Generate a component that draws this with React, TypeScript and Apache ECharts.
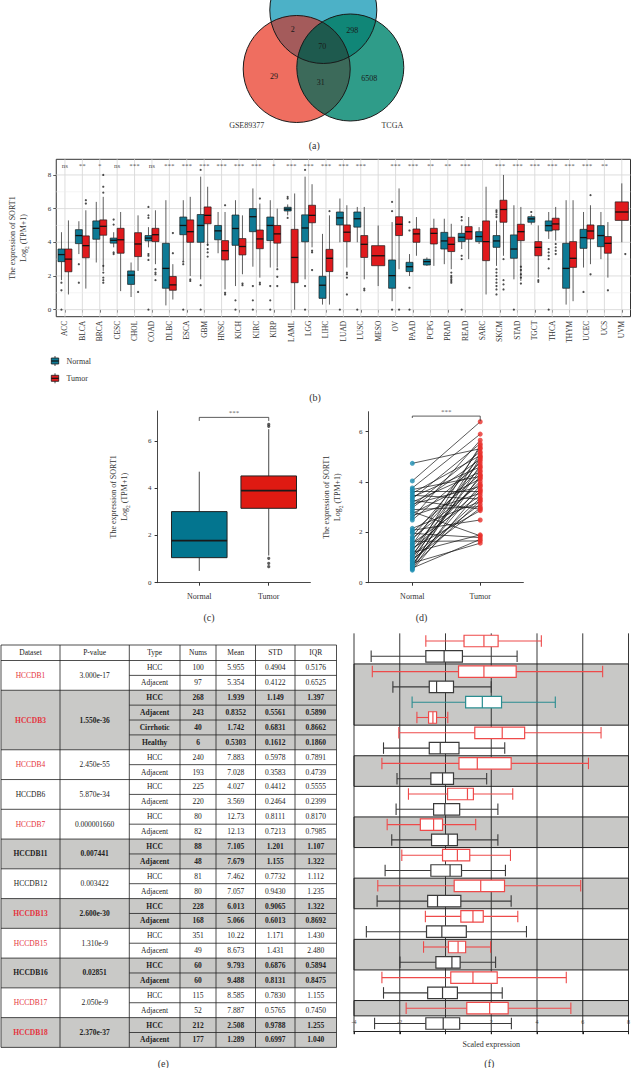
import React, { useEffect, useRef } from 'react';
import * as echarts from 'echarts';

const FONT = '"Liberation Serif", "DejaVu Serif", serif';

// ---------------- (a) Venn ----------------
const vennRegionCounts = ['2', '298', '70', '29', '31', '6508'];
const vennSetNames = ['GSE89377', 'TCGA'];

// ---------------- (b) pan-cancer boxplot ----------------
const bCategories = ['ACC', 'BLCA', 'BRCA', 'CESC', 'CHOL', 'COAD', 'DLBC', 'ESCA', 'GBM', 'HNSC', 'KICH', 'KIRC', 'KIRP', 'LAML', 'LGG', 'LIHC', 'LUAD', 'LUSC', 'MESO', 'OV', 'PAAD', 'PCPG', 'PRAD', 'READ', 'SARC', 'SKCM', 'STAD', 'TGCT', 'THCA', 'THYM', 'UCEC', 'UCS', 'UVM'];
const bSignif = ['ns', '**', '*', 'ns', '***', 'ns', '***', '***', '***', '***', '***', '***', '*', '***', '***', '***', '***', '***', '', '***', '***', '**', '**', '***', '', '***', '***', '***', '***', '***', '***', '**', ''];
const bGroups = ['Normal', 'Tumor'];
const bYTicks = [0, 2, 4, 6, 8];
// [min, Q1, median, Q3, max]
const bNormalStats = [
  [1.75, 2.85, 3.27, 3.6, 4.6],
  [3.3, 3.92, 4.4, 4.75, 5.25],
  [2.8, 4.18, 4.83, 5.27, 6.4],
  [3.7, 3.95, 4.12, 4.25, 4.6],
  [0.75, 1.5, 2.05, 2.3, 2.8],
  [3.7, 4.08, 4.25, 4.4, 4.9],
  [0.25, 1.27, 2.45, 3.94, 6.5],
  [2.9, 4.45, 5.0, 5.5, 6.5],
  [1.8, 4.0, 5.0, 5.65, 7.9],
  [3.35, 4.15, 4.68, 5.0, 5.8],
  [1.4, 3.82, 4.82, 5.62, 6.5],
  [2.55, 4.63, 5.52, 6.0, 7.2],
  [2.5, 4.1, 5.0, 5.5, 6.5],
  [5.6, 5.86, 5.97, 6.08, 6.25],
  [1.8, 4.03, 4.85, 5.63, 7.9],
  [0.3, 0.67, 1.45, 1.98, 4.5],
  [4.0, 5.03, 5.45, 5.8, 6.6],
  [4.0, 4.9, 5.4, 5.8, 6.1],
  null,
  [0.5, 1.27, 2.02, 2.95, 5.2],
  [2.0, 2.26, 2.55, 2.81, 3.3],
  [2.6, 2.65, 2.85, 2.99, 3.1],
  [2.7, 3.6, 4.08, 4.59, 5.4],
  [3.6, 4.04, 4.3, 4.53, 5.0],
  [3.9, 4.04, 4.34, 4.63, 4.9],
  [2.6, 3.7, 4.08, 4.4, 5.3],
  [1.8, 3.05, 3.6, 4.44, 6.2],
  [5.05, 5.19, 5.39, 5.52, 5.65],
  [4.2, 4.67, 4.99, 5.27, 5.8],
  [0.3, 1.27, 2.45, 3.94, 6.5],
  [2.5, 3.64, 4.28, 4.77, 5.8],
  [3.0, 3.74, 4.4, 4.99, 5.8],
  null,
];
const bTumorStats = [
  [0.9, 2.25, 3.0, 3.6, 5.3],
  [1.25, 3.08, 3.8, 4.38, 5.9],
  [2.3, 4.42, 4.95, 5.33, 6.7],
  [1.1, 3.35, 4.15, 4.83, 5.8],
  [2.3, 3.15, 3.9, 4.57, 5.6],
  [2.7, 4.04, 4.45, 4.83, 5.9],
  [0.6, 1.15, 1.47, 1.97, 2.7],
  [2.0, 4.0, 4.63, 5.33, 6.7],
  [3.8, 5.1, 5.6, 6.1, 7.3],
  [1.2, 2.95, 3.5, 4.1, 5.8],
  [2.1, 3.25, 3.75, 4.22, 5.6],
  [1.9, 3.62, 4.2, 4.73, 6.3],
  [2.5, 3.95, 4.5, 5.0, 6.0],
  [0.0, 1.6, 3.1, 4.77, 6.9],
  [3.7, 5.16, 5.6, 6.2, 7.45],
  [0.3, 2.26, 3.05, 3.58, 5.6],
  [2.5, 4.04, 4.6, 5.03, 6.2],
  [1.8, 3.1, 3.88, 4.4, 6.1],
  [1.4, 2.61, 3.2, 3.8, 5.0],
  [2.4, 4.4, 5.07, 5.52, 7.2],
  [3.2, 4.0, 4.5, 4.79, 5.5],
  [2.6, 3.9, 4.53, 4.83, 5.4],
  [2.4, 3.45, 3.88, 4.3, 5.1],
  [3.0, 4.18, 4.63, 4.93, 5.5],
  [0.9, 2.91, 4.04, 5.27, 7.3],
  [3.2, 5.19, 5.95, 6.5, 8.0],
  [1.7, 4.1, 4.63, 5.07, 6.1],
  [1.9, 3.2, 3.7, 4.04, 5.0],
  [4.1, 4.73, 5.09, 5.43, 6.1],
  [0.5, 2.51, 3.05, 4.04, 6.5],
  [2.7, 4.2, 4.67, 5.03, 6.2],
  [1.9, 3.35, 3.94, 4.34, 5.2],
  [4.0, 5.3, 5.8, 6.4, 7.5],
];
const bNormalOutliers = [
  [1.6, 1.15, 0], [2.7, 1.6], [], [5.35, 5.05, 3.4, 3.3], [], [6.1, 5.6, 5.45, 3.3, 3.2, 2.95, 0], [], [2.85, 2.7, 0], [8.3, 1.45, 0], [], [0.55, 0],
  [1.4, 0.55, 0], [1.4, 0.55, 0], [6.7, 6.6, 5.45], [8.3, 1.4, 0], [], [0], [0], [], [6.4, 5.85, 0], [5.2, 4.7, 1.3, 0], [], [], [5.5, 5.3, 3.2, 3.0, 0],
  [], [5.9, 5.8, 5.65, 5.5, 2.4, 2.2, 2.0, 1.8, 1.6, 1.4, 1.2, 0.9], [0], [5.8], [3.6, 3.4, 3.2, 3.0, 2.45, 0], [], [1.05], [], [],
];
const bTumorOutliers = [
  [], [6.5, 6.3], [8.0, 7.3, 6.95, 2.6, 2.2, 1.9, 1.75, 1.6], [], [1.05], [2.4, 2.2, 2.1, 1.75], [3.35, 4.55], [1.8, 1.7], [3.85, 3.6, 3.4, 3.15], [6.2, 1.0, 0.9], [1.55, 1.45],
  [6.6, 1.6, 1.5], [2.4, 1.95, 1.4], [], [3.5, 3.4, 2.35], [5.85], [2.2, 2.1, 1.9, 0.9], [1.25, 1.15], [], [0], [], [], [2.2, 2.0, 1.9, 1.8, 1.7, 1.6], [],
  [], [3.0, 1.75, 1.5, 1.2], [2.55, 2.35, 2.1, 1.9, 1.55], [1.75, 1.65], [3.9, 3.7, 3.5, 3.3], [], [2.1, 6.8], [1.15], [3.3],
];

// ---------------- (c) LIHC boxplot ----------------
const cGroups = ['Normal', 'Tumor'];
const cNormalStats = [0.5, 1.06, 1.78, 3.01, 4.7];
const cTumorStats = [1.15, 3.15, 3.9, 4.52, 6.5];
const cTumorOutliers = [6.62, 6.7, 1.03, 0.82, 0.68];
const cYTicks = [0, 2, 4, 6];
const cBracket = [6.85, 7.0];

// ---------------- (d) paired ----------------
const dGroups = ['Normal', 'Tumor'];
const dNormal = [4.74, 4.04, 3.76, 3.7, 3.62, 3.55, 3.47, 3.4, 3.33, 3.27, 3.2, 3.12, 3.05, 2.98, 2.9, 2.82, 2.75, 2.66, 2.57, 2.49, 2.16, 2.08, 2.01, 1.96, 1.83, 1.77, 1.71, 1.64, 1.57, 1.51, 1.45, 1.38, 1.32, 1.26, 1.2, 1.14, 1.08, 1.03, 0.98, 0.93, 0.88, 0.83, 0.78, 0.74, 0.7, 0.66, 0.62, 0.58, 0.54, 0.5];
const dTumor = [5.32, 6.39, 5.9, 4.22, 3.62, 5.05, 3.32, 4.6, 5.52, 2.92, 4.4, 3.82, 5.2, 4.9, 3.02, 1.86, 4.12, 3.55, 5.66, 4.75, 3.22, 2.49, 4.3, 1.79, 5.0, 3.92, 4.55, 1.66, 3.46, 5.36, 4.02, 2.86, 3.72, 4.84, 1.9, 4.16, 3.12, 5.45, 4.46, 2.96, 3.36, 5.14, 1.57, 3.86, 4.66, 3.26, 4.96, 1.72, 4.26, 3.66];
const dYTicks = [0, 2, 4, 6];
const dBracket = [6.54, 6.615, 6.42];

// ---------------- (e) table ----------------
const eHeader = ['Dataset', 'P-value', 'Type', 'Nums', 'Mean', 'STD', 'IQR'];
const eDatasets = ['HCCDB1', 'HCCDB3', 'HCCDB4', 'HCCDB6', 'HCCDB7', 'HCCDB11', 'HCCDB12', 'HCCDB13', 'HCCDB15', 'HCCDB16', 'HCCDB17', 'HCCDB18'];
const ePValues = ['3.000e-17', '1.550e-36', '2.450e-55', '5.870e-34', '0.000001660', '0.007441', '0.003422', '2.600e-30', '1.310e-9', '0.02851', '2.050e-9', '2.370e-37'];
const eRedName = [true, true, true, false, true, false, false, true, true, false, true, true];
const eShaded = [false, true, false, false, false, true, false, true, false, true, false, true];
const eTypes = [['HCC', 'Adjacent'], ['HCC', 'Adjacent', 'Cirrhotic', 'Healthy'], ['HCC', 'Adjacent'], ['HCC', 'Adjacent'], ['HCC', 'Adjacent'], ['HCC', 'Adjacent'], ['HCC', 'Adjacent'], ['HCC', 'Adjacent'], ['HCC', 'Adjacent'], ['HCC', 'Adjacent'], ['HCC', 'Adjacent'], ['HCC', 'Adjacent']];
const eNums = [['100', '97'], ['268', '243', '40', '6'], ['240', '193'], ['225', '220'], ['80', '82'], ['88', '48'], ['81', '80'], ['228', '168'], ['351', '49'], ['60', '60'], ['115', '52'], ['212', '177']];
const eMeans = [['5.955', '5.354'], ['1.939', '0.8352', '1.742', '0.5303'], ['7.883', '7.028'], ['4.027', '3.569'], ['12.73', '12.13'], ['7.105', '7.679'], ['7.462', '7.057'], ['6.013', '5.066'], ['10.22', '8.673'], ['9.793', '9.488'], ['8.585', '7.887'], ['2.508', '1.289']];
const eSTD = [['0.4904', '0.4122'], ['1.149', '0.5561', '0.6831', '0.1612'], ['0.5978', '0.3583'], ['0.4412', '0.2464'], ['0.8111', '0.7213'], ['1.201', '1.155'], ['0.7732', '0.9430'], ['0.9065', '0.6013'], ['1.171', '1.431'], ['0.6876', '0.8131'], ['0.7830', '0.5765'], ['0.9788', '0.6997']];
const eIQR = [['0.5176', '0.6525'], ['1.397', '0.5890', '0.8662', '0.1860'], ['0.7891', '0.4739'], ['0.5555', '0.2399'], ['0.8170', '0.7985'], ['1.107', '1.322'], ['1.112', '1.235'], ['1.322', '0.8692'], ['1.430', '2.480'], ['0.5894', '0.8475'], ['1.155', '0.7450'], ['1.255', '1.040']];

// ---------------- (f) scaled expression ----------------
const fTypeOrder = ['HCC', 'Adjacent', 'Cirrhotic', 'Healthy'];
const fStats = [
  [-0.86, 0.81, 1.68, 2.3, 4.19],
  [-3.25, -0.86, -0.06, 0.74, 3.13],
  [-3.2, 0.57, 1.68, 3.09, 6.87],
  [-2.3, -0.71, -0.39, 0.35, 2.0],
  [-1.46, 0.88, 1.61, 2.45, 4.8],
  [-1.25, -0.74, -0.55, -0.39, 0.1],
  [-2.04, 1.28, 2.48, 3.46, 6.8],
  [-2.71, -0.71, -0.23, 0.59, 2.59],
  [-2.78, 0.59, 1.39, 2.87, 6.25],
  [-2.12, -0.64, -0.13, 0.35, 1.8],
  [-1.62, 0.09, 0.96, 1.22, 2.94],
  [-2.16, -0.52, -0.03, 0.62, 2.29],
  [-2.55, -1.1, -0.52, -0.13, 1.32],
  [-2.35, -0.61, 0.12, 0.52, 2.29],
  [-1.91, -0.13, 0.52, 1.06, 2.84],
  [-2.64, -0.64, 0.2, 0.7, 2.62],
  [-2.96, 0.38, 1.54, 2.58, 5.91],
  [-2.99, -0.78, -0.35, 0.67, 2.87],
  [-0.88, 0.67, 1.2, 1.65, 3.16],
  [-3.46, -0.83, -0.16, 0.91, 3.54],
  [-0.96, 0.13, 0.55, 0.88, 1.97],
  [-1.99, -0.42, 0.28, 0.64, 2.19],
  [-2.78, 0.23, 1.2, 2.26, 5.28],
  [-2.71, -0.78, -0.13, 0.52, 2.48],
  [-1.72, 0.93, 1.93, 2.74, 5.48],
  [-3.1, -0.86, -0.1, 0.62, 2.88],
];
const fShadedBands = [[2, 6], [8, 10], [12, 14], [16, 18], [20, 22], [24, 25]];
const fXTicks = [-4, -2, 0, 2, 4, 6, 8];

// ---------------- styling ----------------
const NORMAL_B = '#0e7a95';
const TUMOR_B = '#e01a1d';
const NORMAL_C = '#03758f';
const TUMOR_C = '#df1a12';
const NORMAL_D = '#1c8db2';
const TUMOR_D = '#e8302a';
const F_COLORS = ['#ee4a4a', '#3a3a3a', '#2a8d90', '#ee4a4a'];
const RED_TXT = '#e5333d';

function txt(x: number, y: number, text: string, o: any = {}) {
  const align = o.align || 'center';
  return {
    type: 'text', x, y, silent: true, z: o.z || 10,
    style: {
      text, fill: o.fill || '#222', fontSize: o.size || 8, fontFamily: FONT, fontWeight: o.weight || 'normal',
      align, textAlign: align, verticalAlign: 'middle', textVerticalAlign: 'middle',
    },
  };
}
function ln(x1: number, y1: number, x2: number, y2: number, stroke = '#222', lw = 0.8) {
  return { type: 'line', silent: true, z: 10, shape: { x1, y1, x2, y2 }, style: { stroke, lineWidth: lw } };
}

function regionPoints(circles: any[], n = 360) {
  const pts: number[][] = [];
  circles.forEach((c, i) => {
    for (let k = 0; k < n; k++) {
      const a = (2 * Math.PI * k) / n;
      const x = c.cx + c.r * Math.cos(a);
      const y = c.cy + c.r * Math.sin(a);
      const inside = circles.every((o, j) => j === i || (x - o.cx) ** 2 + (y - o.cy) ** 2 <= o.r * o.r + 1e-6);
      if (inside) pts.push([x, y]);
    }
  });
  const mx = pts.reduce((s, p) => s + p[0], 0) / pts.length;
  const my = pts.reduce((s, p) => s + p[1], 0) / pts.length;
  pts.sort((p, q) => Math.atan2(p[1] - my, p[0] - mx) - Math.atan2(q[1] - my, q[0] - mx));
  return pts;
}

function vennGraphics() {
  const TOP = { cx: 323.3, cy: 10, r: 53.5 };
  const LEFT = { cx: 296.7, cy: 69, r: 53.5 };
  const RIGHT = { cx: 350.3, cy: 67.5, r: 53.5 };
  const els: any[] = [];
  const circ = (c: any, fill: string) => ({ type: 'circle', silent: true, z: 5, shape: { cx: c.cx, cy: c.cy, r: c.r }, style: { fill } });
  els.push(circ(TOP, '#4cb1c7'), circ(LEFT, '#ef6e60'), circ(RIGHT, '#2f9c89'));
  const poly = (cs: any[], fill: string) => ({ type: 'polygon', silent: true, z: 6, shape: { points: regionPoints(cs) }, style: { fill } });
  els.push(poly([TOP, LEFT], '#a45b5b'), poly([TOP, RIGHT], '#108677'), poly([LEFT, RIGHT], '#3c6a5a'), poly([TOP, LEFT, RIGHT], '#1e5a4e'));
  [TOP, LEFT, RIGHT].forEach((c) => els.push({ type: 'circle', silent: true, z: 7, shape: { cx: c.cx, cy: c.cy, r: c.r }, style: { fill: 'none', stroke: '#1a1a1a', lineWidth: 1 } }));
  const pos = [[292.7, 29], [352.3, 30], [322.3, 46.7], [274, 76.7], [320.7, 82.7], [369.3, 78.3]];
  vennRegionCounts.forEach((t, i) => els.push(txt(pos[i][0], pos[i][1], t, { size: 8, fill: '#1a1a1a' })));
  els.push(txt(246.7, 125.7, vennSetNames[0], { size: 8, fill: '#333' }));
  els.push(txt(392.3, 125.7, vennSetNames[1], { size: 8, fill: '#333' }));
  return els;
}

function tableGraphics() {
  const els: any[] = [];
  const colX = [1, 60, 129.3, 180, 216, 255.5, 295, 336.5];
  const top = 645, headH = 15.5, rowH = 14.88;
  const y0 = top + headH;
  const nRows = eTypes.reduce((s, t) => s + t.length, 0);
  const bottom = y0 + nRows * rowH;
  // shading
  let r = 0;
  eDatasets.forEach((_, g) => {
    const n = eTypes[g].length;
    if (eShaded[g]) els.push({ type: 'rect', silent: true, z: 9, shape: { x: colX[0], y: y0 + r * rowH, width: colX[7] - colX[0], height: n * rowH }, style: { fill: '#c9c9c7' } });
    r += n;
  });
  // lines
  els.push(ln(colX[0], top, colX[7], top), ln(colX[0], y0, colX[7], y0));
  colX.forEach((x) => els.push(ln(x, top, x, bottom)));
  // header
  eHeader.forEach((h, i) => els.push(txt((colX[i] + colX[i + 1]) / 2, top + headH / 2, h, { size: 7.5 })));
  r = 0;
  eDatasets.forEach((name, g) => {
    const n = eTypes[g].length;
    const gy = y0 + r * rowH;
    const weight = eShaded[g] ? 'bold' : 'normal';
    els.push(ln(colX[0], gy + n * rowH, colX[7], gy + n * rowH));
    els.push(txt((colX[0] + colX[1]) / 2, gy + (n * rowH) / 2, name, { size: 7.5, fill: eRedName[g] ? RED_TXT : '#222', weight }));
    els.push(txt((colX[1] + colX[2]) / 2, gy + (n * rowH) / 2, ePValues[g], { size: 7.5, weight }));
    for (let k = 0; k < n; k++) {
      const cy = gy + (k + 0.5) * rowH;
      if (k > 0) els.push(ln(colX[2], gy + k * rowH, colX[7], gy + k * rowH));
      const vals = [eTypes[g][k], eNums[g][k], eMeans[g][k], eSTD[g][k], eIQR[g][k]];
      vals.forEach((v, c) => els.push(txt((colX[c + 2] + colX[c + 3]) / 2, cy, v, { size: 7.5, weight })));
    }
    r += n;
  });
  return els;
}

function legendGraphics() {
  const els: any[] = [];
  const items = [[bGroups[0], NORMAL_B, 361], [bGroups[1], TUMOR_B, 378.3]] as any[];
  items.forEach(([name, color, y]) => {
    els.push(ln(55, y - 5, 55, y + 5, '#1a1a1a', 0.8));
    els.push({ type: 'rect', silent: true, z: 11, shape: { x: 51.3, y: y - 3, width: 7.4, height: 6 }, style: { fill: color, stroke: '#1a1a1a', lineWidth: 0.8 } });
    els.push({ type: 'line', silent: true, z: 12, shape: { x1: 51.3, y1: y, x2: 58.7, y2: y }, style: { stroke: '#111', lineWidth: 1.2 } });
    els.push(txt(66.5, y, name, { size: 8, align: 'left', fill: '#333' }));
  });
  return els;
}

const yNameRich = (size: number) => ({
  fontFamily: FONT, color: '#333',
  rich: {
    a: { fontSize: size, fontFamily: FONT, color: '#333', lineHeight: size + 3.5 },
    s: { fontSize: size * 0.68, fontFamily: FONT, color: '#333', lineHeight: size * 0.7, verticalAlign: 'bottom' },
  },
});
const Y_NAME = '{a|The expression of SORT1}\n{a|Log}{s|2}{a| (TPM+1)}';

function buildOption() {
  const bBoxData: any[] = [];
  bCategories.forEach((_, i) => {
    const n = bNormalStats[i];
    const t = bTumorStats[i];
    if (n) bBoxData.push([i, ...n, -1]);
    if (t) bBoxData.push([i, ...t, n ? 1 : 0]);
  });
  const bNOut: any[] = [];
  const bTOut: any[] = [];
  bNormalOutliers.forEach((arr, i) => arr.forEach((v) => bNOut.push([i, v])));
  bTumorOutliers.forEach((arr, i) => arr.forEach((v) => bTOut.push([i, v])));
  const bGrid: any[] = bCategories.map((_, i) => [i, 0, 1]);
  for (let v = 0; v <= 8; v++) bGrid.push([0, v, v % 2 === 0 ? 0 : 2]);
  const bBand = 580.5 / bCategories.length;

  const renderB = (params: any, api: any) => {
    const idx = api.value(0);
    const pos = api.value(6);
    const bw = api.size([1, 0])[0];
    const cx = api.coord([idx, 0])[0] + pos * bw * 0.2;
    const hw = pos === 0 ? bw * 0.38 : bw * 0.2;
    const yv = (k: number) => api.coord([idx, api.value(k)])[1];
    const yMin = yv(1), yQ1 = yv(2), yMed = yv(3), yQ3 = yv(4), yMax = yv(5);
    const fill = pos < 0 ? NORMAL_B : TUMOR_B;
    const ls = { stroke: '#1a1a1a', lineWidth: 0.7 };
    return {
      type: 'group', children: [
        { type: 'line', shape: { x1: cx, y1: yMax, x2: cx, y2: yQ3 }, style: ls },
        { type: 'line', shape: { x1: cx, y1: yQ1, x2: cx, y2: yMin }, style: ls },
        { type: 'rect', shape: { x: cx - hw, y: yQ3, width: 2 * hw, height: yQ1 - yQ3 }, style: { fill, stroke: '#1a1a1a', lineWidth: 0.7 } },
        { type: 'line', shape: { x1: cx - hw, y1: yMed, x2: cx + hw, y2: yMed }, style: { stroke: '#111', lineWidth: 1.3 } },
      ],
    };
  };
  const renderBGrid = (params: any, api: any) => {
    const cs = params.coordSys;
    const kind = api.value(2);
    if (kind === 1) {
      const x = api.coord([api.value(0), 0])[0];
      return { type: 'line', shape: { x1: x, y1: cs.y, x2: x, y2: cs.y + cs.height }, style: { stroke: '#d9d9d9', lineWidth: 0.9 } };
    }
    const y = api.coord([0, api.value(1)])[1];
    return { type: 'line', shape: { x1: cs.x, y1: y, x2: cs.x + cs.width, y2: y }, style: { stroke: kind === 0 ? '#d9d9d9' : '#ececec', lineWidth: kind === 0 ? 0.9 : 0.6 } };
  };

  const renderC = (params: any, api: any) => {
    const xv = api.value(0);
    const bw = api.size([1, 0])[0];
    const cx = api.coord([xv, 0])[0];
    const hw = bw * 0.4;
    const yv = (k: number) => api.coord([xv, api.value(k)])[1];
    const yMin = yv(1), yQ1 = yv(2), yMed = yv(3), yQ3 = yv(4), yMax = yv(5);
    const fill = api.value(6) === 0 ? NORMAL_C : TUMOR_C;
    const ls = { stroke: '#333', lineWidth: 0.9 };
    return {
      type: 'group', children: [
        { type: 'line', shape: { x1: cx, y1: yMax, x2: cx, y2: yQ3 }, style: ls },
        { type: 'line', shape: { x1: cx, y1: yQ1, x2: cx, y2: yMin }, style: ls },
        { type: 'rect', shape: { x: cx - hw, y: yQ3, width: 2 * hw, height: yQ1 - yQ3 }, style: { fill, stroke: '#222', lineWidth: 1 } },
        { type: 'line', shape: { x1: cx - hw, y1: yMed, x2: cx + hw, y2: yMed }, style: { stroke: '#1a1a1a', lineWidth: 1.8 } },
      ],
    };
  };

  const renderF = (params: any, api: any) => {
    const row = api.value(0);
    const yc = api.coord([0, row + 0.5])[1];
    const unit = api.size([0, 1])[1];
    const hh = unit * 0.375;
    const x = (k: number) => api.coord([api.value(k), row + 0.5])[0];
    const xMin = x(1), xQ1 = x(2), xMed = x(3), xQ3 = x(4), xMax = x(5);
    const color = F_COLORS[api.value(6)];
    const ls = { stroke: color, lineWidth: 1.1 };
    return {
      type: 'group', children: [
        { type: 'line', shape: { x1: xMin, y1: yc, x2: xQ1, y2: yc }, style: ls },
        { type: 'line', shape: { x1: xQ3, y1: yc, x2: xMax, y2: yc }, style: ls },
        { type: 'line', shape: { x1: xMin, y1: yc - hh, x2: xMin, y2: yc + hh }, style: ls },
        { type: 'line', shape: { x1: xMax, y1: yc - hh, x2: xMax, y2: yc + hh }, style: ls },
        { type: 'rect', shape: { x: xQ1, y: yc - hh, width: xQ3 - xQ1, height: 2 * hh }, style: { fill: '#fff', stroke: color, lineWidth: 1.2 } },
        { type: 'line', shape: { x1: xMed, y1: yc - hh, x2: xMed, y2: yc + hh }, style: { stroke: color, lineWidth: 1.2 } },
      ],
    };
  };
  const renderFBand = (params: any, api: any) => {
    const cs = params.coordSys;
    const y1 = api.coord([0, api.value(0)])[1];
    const y2 = api.coord([0, api.value(1)])[1];
    return { type: 'rect', shape: { x: cs.x, y: Math.min(y1, y2), width: cs.width, height: Math.abs(y2 - y1) }, style: { fill: '#c8c8c6', stroke: '#222', lineWidth: 1 } };
  };
  const renderFLine = (params: any, api: any) => {
    const cs = params.coordSys;
    const x = api.coord([api.value(0), 0])[0];
    return { type: 'line', shape: { x1: x, y1: cs.y, x2: x, y2: cs.y + cs.height + 3 }, style: { stroke: '#222', lineWidth: 0.9 } };
  };

  const fTypesFlat = eTypes.reduce((a: string[], t) => a.concat(t), []);
  const fData = fStats.map((s, i) => [i, ...s, fTypeOrder.indexOf(fTypesFlat[i])]);

  const tickLabel = { fontFamily: FONT, color: '#333' };

  return {
    animation: false,
    backgroundColor: '#fff',
    textStyle: { fontFamily: FONT },
    grid: [
      { left: 50, top: 159.3, width: 580.5, height: 157.4, show: true, borderColor: '#333', borderWidth: 1, backgroundColor: '#fff' },
      { left: 157.6, top: 411, width: 152.8, height: 171.7 },
      { left: 368.6, top: 411.7, width: 154.8, height: 171 },
      { left: 354, top: 633.35, width: 277.7, height: 397.8 },
    ],
    xAxis: [
      {
        type: 'category', gridIndex: 0, data: bCategories, boundaryGap: true,
        axisLine: { show: false },
        axisTick: { show: true, alignWithLabel: true, length: 3, lineStyle: { color: '#333', width: 0.8 } },
        axisLabel: { ...tickLabel, rotate: 90, fontSize: 7.5, interval: 0, margin: 4 },
        splitLine: { show: false },
      },
      {
        type: 'value', gridIndex: 1, min: 0.4, max: 2.6,
        axisLine: { show: true, onZero: false, lineStyle: { color: '#333', width: 0.9 } },
        axisTick: { show: true, customValues: [1, 2], length: 3, lineStyle: { color: '#333' } },
        axisLabel: { ...tickLabel, customValues: [1, 2], fontSize: 8, margin: 10, formatter: (v: number) => cGroups[Math.round(v) - 1] || '' },
        splitLine: { show: false },
      },
      {
        type: 'value', gridIndex: 2, min: 0.356, max: 2.636,
        axisLine: { show: true, onZero: false, lineStyle: { color: '#333', width: 0.9 } },
        axisTick: { show: true, customValues: [1, 2], length: 3, lineStyle: { color: '#333' } },
        axisLabel: { ...tickLabel, customValues: [1, 2], fontSize: 8, margin: 10, formatter: (v: number) => dGroups[Math.round(v) - 1] || '' },
        splitLine: { show: false },
      },
      {
        type: 'value', gridIndex: 3, min: -4, max: 8, interval: 2,
        axisLine: { show: true, onZero: false, lineStyle: { color: '#222', width: 1 } },
        axisTick: { show: true, length: 3, lineStyle: { color: '#222' } },
        axisLabel: { ...tickLabel, inside: true, fontSize: 6, color: '#555', margin: 6, showMinLabel: true, showMaxLabel: true },
        splitLine: { show: false },
        name: 'Scaled expression', nameLocation: 'middle', nameGap: 9,
        nameTextStyle: { fontFamily: FONT, fontSize: 8, color: '#333' },
      },
    ],
    yAxis: [
      {
        type: 'value', gridIndex: 0, min: -0.42, max: 8.93,
        axisLine: { show: false },
        axisTick: { show: true, customValues: bYTicks, length: 3, lineStyle: { color: '#333', width: 0.8 } },
        axisLabel: { ...tickLabel, customValues: bYTicks, fontSize: 7, margin: 5 },
        splitLine: { show: false },
        name: Y_NAME, nameLocation: 'middle', nameRotate: 90, nameGap: 27, nameTextStyle: yNameRich(8),
      },
      {
        type: 'value', gridIndex: 1, min: 0, max: 7.27,
        axisLine: { show: true, onZero: false, lineStyle: { color: '#333', width: 0.9 } },
        axisTick: { show: true, customValues: cYTicks, length: 3, lineStyle: { color: '#333' } },
        axisLabel: { ...tickLabel, customValues: cYTicks, fontSize: 7, margin: 6 },
        splitLine: { show: false },
        name: Y_NAME, nameLocation: 'middle', nameRotate: 90, nameGap: 27, nameTextStyle: yNameRich(8),
      },
      {
        type: 'value', gridIndex: 2, min: 0, max: 6.79,
        axisLine: { show: true, onZero: false, lineStyle: { color: '#333', width: 0.9 } },
        axisTick: { show: true, customValues: dYTicks, length: 3, lineStyle: { color: '#333' } },
        axisLabel: { ...tickLabel, customValues: dYTicks, fontSize: 7, margin: 6 },
        splitLine: { show: false },
        name: Y_NAME, nameLocation: 'middle', nameRotate: 90, nameGap: 25, nameTextStyle: yNameRich(8),
      },
      { type: 'value', gridIndex: 3, min: 0, max: fStats.length, inverse: true, show: false },
    ],
    series: [
      // (b)
      { type: 'custom', name: 'bgrid', xAxisIndex: 0, yAxisIndex: 0, z: 1, silent: true, renderItem: renderBGrid, encode: { x: 0, y: 1 }, data: bGrid },
      { type: 'custom', name: 'bbox', xAxisIndex: 0, yAxisIndex: 0, z: 3, silent: true, renderItem: renderB, encode: { x: 0, y: [1, 2, 3, 4, 5] }, data: bBoxData },
      { type: 'scatter', xAxisIndex: 0, yAxisIndex: 0, z: 4, silent: true, symbolSize: 2.2, symbolOffset: [-bBand * 0.2, 0], itemStyle: { color: '#222' }, data: bNOut },
      { type: 'scatter', xAxisIndex: 0, yAxisIndex: 0, z: 4, silent: true, symbolSize: 2.2, symbolOffset: [bBand * 0.2, 0], itemStyle: { color: '#222' }, data: bTOut },
      {
        type: 'scatter', xAxisIndex: 0, yAxisIndex: 0, z: 5, silent: true, symbolSize: 1, itemStyle: { color: 'rgba(0,0,0,0)' },
        label: { show: true, position: 'inside', formatter: '{b}', fontFamily: FONT, fontSize: 7, color: '#222' },
        data: bSignif.map((s, i) => ({ name: s, value: [i, 8.55] })).filter((d) => d.name),
      },
      // (c)
      { type: 'custom', xAxisIndex: 1, yAxisIndex: 1, z: 3, silent: true, renderItem: renderC, encode: { x: 0, y: [1, 2, 3, 4, 5] }, data: [[1, ...cNormalStats, 0], [2, ...cTumorStats, 1]] },
      { type: 'scatter', xAxisIndex: 1, yAxisIndex: 1, z: 4, silent: true, symbolSize: 3.2, itemStyle: { color: '#333' }, data: cTumorOutliers.map((v) => [2, v]) },
      {
        type: 'lines', coordinateSystem: 'cartesian2d', xAxisIndex: 1, yAxisIndex: 1, polyline: true, silent: true, z: 4,
        lineStyle: { color: '#333', width: 0.8, opacity: 1 },
        data: [{ coords: [[1, cBracket[0]], [1, cBracket[1]], [2, cBracket[1]], [2, cBracket[0]]] }],
      },
      {
        type: 'scatter', xAxisIndex: 1, yAxisIndex: 1, z: 5, silent: true, symbolSize: 1, itemStyle: { color: 'rgba(0,0,0,0)' },
        label: { show: true, position: 'top', distance: 0, formatter: '***', fontFamily: FONT, fontSize: 7, color: '#333' },
        data: [[1.5, cBracket[1]]],
      },
      // (d)
      {
        type: 'lines', coordinateSystem: 'cartesian2d', xAxisIndex: 2, yAxisIndex: 2, silent: true, z: 2,
        lineStyle: { color: '#111', width: 0.7, opacity: 1 },
        data: dNormal.map((n, i) => ({ coords: [[1, n], [2, dTumor[i]]] })),
      },
      { type: 'scatter', xAxisIndex: 2, yAxisIndex: 2, z: 3, silent: true, symbolSize: 5, itemStyle: { color: NORMAL_D }, data: dNormal.map((v) => [1, v]) },
      { type: 'scatter', xAxisIndex: 2, yAxisIndex: 2, z: 3, silent: true, symbolSize: 5, itemStyle: { color: TUMOR_D }, data: dTumor.map((v) => [2, v]) },
      {
        type: 'lines', coordinateSystem: 'cartesian2d', xAxisIndex: 2, yAxisIndex: 2, polyline: true, silent: true, z: 4,
        lineStyle: { color: '#333', width: 0.8, opacity: 1 },
        data: [{ coords: [[1, dBracket[0]], [1, dBracket[1]], [2, dBracket[1]], [2, dBracket[2]]] }],
      },
      {
        type: 'scatter', xAxisIndex: 2, yAxisIndex: 2, z: 5, silent: true, symbolSize: 1, itemStyle: { color: 'rgba(0,0,0,0)' },
        label: { show: true, position: 'top', distance: 0, formatter: '***', fontFamily: FONT, fontSize: 7, color: '#333' },
        data: [[1.5, dBracket[1]]],
      },
      // (f)
      { type: 'custom', xAxisIndex: 3, yAxisIndex: 3, z: 1, silent: true, renderItem: renderFBand, encode: { y: [0, 1] }, data: fShadedBands },
      { type: 'custom', xAxisIndex: 3, yAxisIndex: 3, z: 2, silent: true, renderItem: renderFLine, encode: { x: 0 }, data: fXTicks.map((v) => [v]) },
      { type: 'custom', xAxisIndex: 3, yAxisIndex: 3, z: 3, silent: true, renderItem: renderF, encode: { x: [1, 2, 3, 4, 5], y: 0 }, data: fData },
    ],
    graphic: {
      elements: [
        ...vennGraphics(),
        ...legendGraphics(),
        ...tableGraphics(),
        txt(314.3, 145, '(a)', { size: 10, fill: '#333' }),
        txt(315, 397.7, '(b)', { size: 10, fill: '#333' }),
        txt(209, 617.3, '(c)', { size: 10, fill: '#333' }),
        txt(421.6, 617.3, '(d)', { size: 10, fill: '#333' }),
        txt(163.3, 1063.3, '(e)', { size: 10, fill: '#333' }),
        txt(489.3, 1063.3, '(f)', { size: 10, fill: '#333' }),
      ],
    },
  };
}

export default function App() {
  const ref = useRef<HTMLDivElement>(null);
  useEffect(() => {
    document.body.style.margin = '0';
    const chart = echarts.init(ref.current as HTMLDivElement, null, { renderer: 'svg' });
    chart.setOption(buildOption() as any);
    return () => chart.dispose();
  }, []);
  return <div ref={ref} style={{ width: 633, height: 1068, background: '#fff' }} />;
}
